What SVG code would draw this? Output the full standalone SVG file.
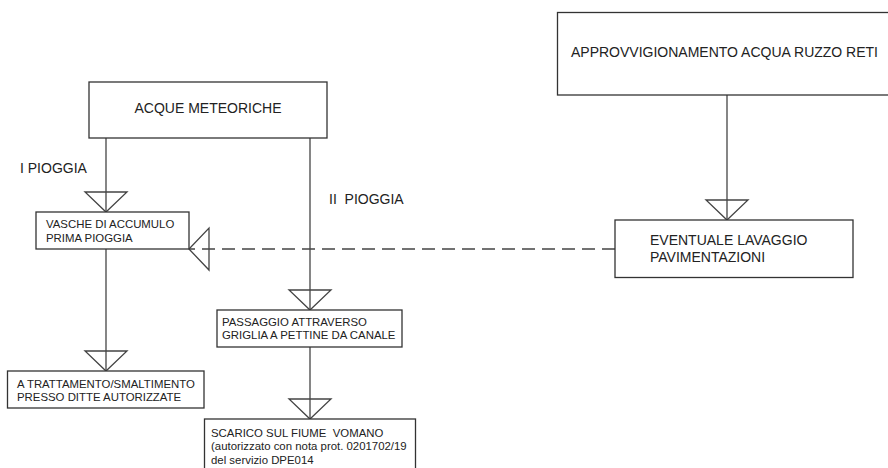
<svg xmlns="http://www.w3.org/2000/svg" width="888" height="468" viewBox="0 0 888 468">
<style>
.box{fill:#fff;stroke:#333;stroke-width:1.3}
.t{font-family:"Liberation Sans",Arial,sans-serif;fill:#222;white-space:pre}
.big{font-size:14px}
.sm{font-size:11.4px}
.ln{fill:none;stroke:#444;stroke-width:1.3}
.dash{stroke-dasharray:13 7}
</style>
<defs>
<marker id="tri" viewBox="-22 -23 24 46" markerWidth="24" markerHeight="46" refX="0" refY="0" orient="auto" markerUnits="userSpaceOnUse">
<path d="M0,0 L-20,-21 L-20,21 Z" fill="none" stroke="#444" stroke-width="1.3" stroke-linejoin="miter"/>
</marker>
</defs>
<rect width="888" height="468" fill="#fff"/>
<g id="connectors">
<line class="ln" x1="106" y1="138" x2="106" y2="212" marker-end="url(#tri)"/>
<line class="ln" x1="310" y1="138" x2="310" y2="310" marker-end="url(#tri)"/>
<line class="ln" x1="106" y1="249" x2="106" y2="371" marker-end="url(#tri)"/>
<line class="ln" x1="310" y1="347" x2="310" y2="419" marker-end="url(#tri)"/>
<line class="ln" x1="727" y1="95" x2="727" y2="220" marker-end="url(#tri)"/>
<line class="ln dash" x1="615" y1="249" x2="189" y2="249" marker-end="url(#tri)"/>
<text class="t big" x="20" y="173">I PIOGGIA</text>
<text class="t big" x="329" y="204">II  PIOGGIA</text>
</g>
<g id="acque-meteoriche">
<rect class="box" x="89" y="82" width="238" height="56"/>
<text class="t big" x="208" y="113" text-anchor="middle">ACQUE METEORICHE</text>
</g>
<g id="vasche">
<rect class="box" x="36" y="212" width="153" height="37"/>
<text class="t sm" x="46" y="228">VASCHE DI ACCUMULO</text>
<text class="t sm" x="46" y="242">PRIMA PIOGGIA</text>
</g>
<g id="trattamento">
<rect class="box" x="7.5" y="371" width="196.5" height="37"/>
<text class="t sm" x="17" y="388">A TRATTAMENTO/SMALTIMENTO</text>
<text class="t sm" x="17" y="401">PRESSO DITTE AUTORIZZATE</text>
</g>
<g id="passaggio">
<rect class="box" x="217" y="310" width="185" height="37"/>
<text class="t sm" x="222" y="326">PASSAGGIO ATTRAVERSO</text>
<text class="t sm" x="222" y="339">GRIGLIA A PETTINE DA CANALE</text>
</g>
<g id="scarico">
<rect class="box" x="204.5" y="419" width="211" height="60"/>
<text class="t sm" x="211" y="437">SCARICO SUL FIUME  VOMANO</text>
<text class="t sm" x="211" y="450">(autorizzato con nota prot. 0201702/19</text>
<text class="t sm" x="211" y="464">del servizio DPE014</text>
</g>
<g id="approvvigionamento">
<rect class="box" x="557.5" y="12.5" width="340" height="82.5"/>
<text class="t big" x="571" y="57">APPROVVIGIONAMENTO ACQUA RUZZO RETI</text>
</g>
<g id="lavaggio">
<rect class="box" x="615" y="220" width="238" height="57.5"/>
<text class="t big" x="650" y="245">EVENTUALE LAVAGGIO</text>
<text class="t big" x="650" y="262">PAVIMENTAZIONI</text>
</g>
</svg>
